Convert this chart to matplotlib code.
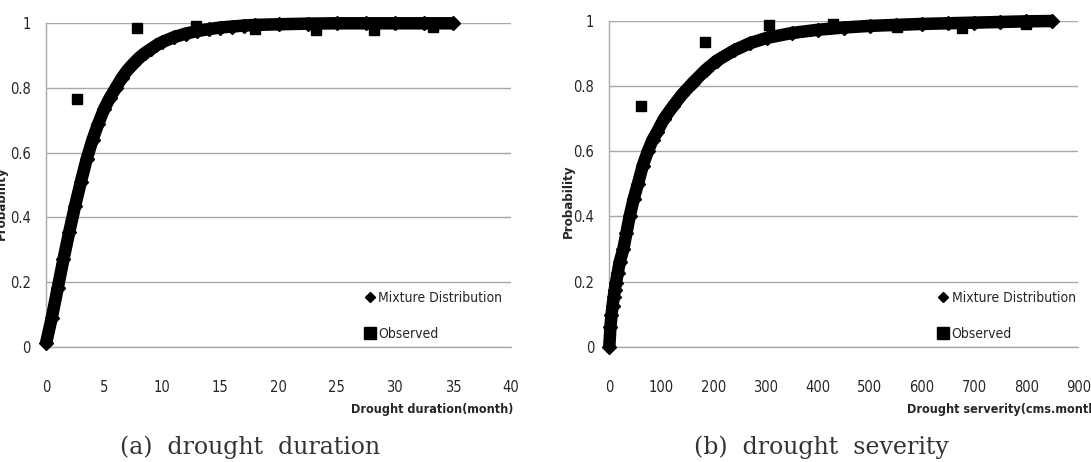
import matplotlib
matplotlib.use("Agg")
import matplotlib.pyplot as plt
from matplotlib.lines import Line2D

plt.rcParams['font.family'] = ['DejaVu Sans']
plt.rcParams['font.stretch'] = 'condensed'

# (a) drought duration - mixture distribution CDF
dur_x = [0, 0.5, 1.0, 1.5, 2.0, 2.5, 3.0, 3.5, 4.0, 4.5, 5.0, 5.5, 6.0, 6.5,
         7.0, 7.5, 8.0, 8.5, 9.0, 9.5, 10, 11, 12, 13, 14, 15, 16, 17, 18,
         20, 22.5, 25, 27.5, 30, 32.5, 35]
dur_y = [0.01, 0.09, 0.18, 0.27, 0.355, 0.435, 0.51, 0.58, 0.64, 0.69, 0.735,
         0.77, 0.80, 0.83, 0.855, 0.875, 0.893, 0.908, 0.92, 0.932, 0.942,
         0.957, 0.968, 0.976, 0.982, 0.987, 0.99, 0.993, 0.995, 0.997, 0.999,
         1.0, 1.0, 1.0, 1.0, 1.0]
dur_obs_x = [2.7, 7.8, 12.9, 18.0, 23.2, 28.2, 33.3]
dur_obs_y = [0.766, 0.985, 0.993, 0.982, 0.980, 0.980, 0.99]

# (b) drought severity
sev_x = [0, 2.1, 4.2, 6.3, 8.4, 10.5, 12.6, 16, 20, 27, 33, 39, 47, 55, 64,
         74, 83, 92, 105, 123, 140, 160, 185, 206, 240, 270, 302, 350, 400,
         450, 500, 550, 600, 650, 700, 750, 800, 850]
sev_y = [0.0, 0.059, 0.097, 0.126, 0.152, 0.174, 0.195, 0.225, 0.26, 0.30,
         0.35, 0.40, 0.455, 0.50, 0.555, 0.60, 0.635, 0.66, 0.70, 0.74, 0.775,
         0.81, 0.85, 0.878, 0.91, 0.932, 0.948, 0.963, 0.973, 0.98, 0.985,
         0.988, 0.991, 0.993, 0.995, 0.997, 0.999, 1.0]
sev_obs_x = [60, 184, 307, 430, 553, 676, 799]
sev_obs_y = [0.74, 0.937, 0.988, 0.99, 0.982, 0.978, 0.99]

y_ticks = [0, 0.2, 0.4, 0.6, 0.8, 1.0]
y_labels = ['0', '0.2', '0.4', '0.6', '0.8', '1']

W, H = 1091, 462
fig = plt.figure(figsize=(W / 100, H / 100), dpi=100)

ax1 = fig.add_axes([46 / W, 1 - 346.7 / H, 465 / W, 323.4 / H])
ax2 = fig.add_axes([609.3 / W, 1 - 346.7 / H, 469 / W, 325.7 / H])

grid_col = '#a8a8a8'
txt_col = '#262626'


def style(ax, xmax, xstep):
    ax.set_xlim(0, xmax)
    ax.set_ylim(0, 1)
    ax.set_yticks(y_ticks)
    ax.set_yticklabels(y_labels)
    ax.set_xticks(list(range(0, xmax + 1, xstep)))
    ax.tick_params(length=0, labelsize=10.5, colors=txt_col)
    ax.tick_params(axis='y', pad=11)
    ax.tick_params(axis='x', pad=24)
    for s in ['top', 'right']:
        ax.spines[s].set_visible(False)
    for s in ['left', 'bottom']:
        ax.spines[s].set_color(grid_col)
        ax.spines[s].set_linewidth(1.0)
    ax.yaxis.grid(True, color=grid_col, linewidth=1.0)
    ax.set_axisbelow(True)


def draw(ax, x, y, ox, oy):
    ax.plot(x, y, '-', color='black', lw=9, marker='D', ms=7,
            solid_capstyle='butt', clip_on=False, zorder=3)
    ax.plot(ox, oy, 's', color='black', ms=7.5, clip_on=False, zorder=4)


style(ax1, 40, 5)
style(ax2, 900, 100)
draw(ax1, dur_x, dur_y, dur_obs_x, dur_obs_y)
draw(ax2, sev_x, sev_y, sev_obs_x, sev_obs_y)

handles = [Line2D([], [], ls='none', marker='D', ms=5.5, color='black'),
           Line2D([], [], ls='none', marker='s', ms=8, color='black')]
names = ['Mixture Distribution', 'Observed']
for lx in (366, 939):
    fig.legend(handles, names, loc='upper left',
               bbox_to_anchor=(lx / W, 1 - 291 / H), frameon=False,
               handlelength=0.6, handletextpad=0.3, labelspacing=1.6,
               borderpad=0, borderaxespad=0, fontsize=10, labelcolor=txt_col)

fig.text(513 / W, 1 - 410 / H, 'Drought duration(month)', ha='right',
         va='center', fontsize=9, fontweight='bold', color=txt_col)
fig.text(907 / W, 1 - 410 / H, 'Drought serverity(cms.month)', ha='left',
         va='center', fontsize=9, fontweight='bold', color=txt_col)
fig.text(1 / W, 1 - 203 / H, 'Probability', rotation=90, ha='center',
         va='center', fontsize=9.5, fontweight='bold', color=txt_col)
fig.text(568 / W, 1 - 201 / H, 'Probability', rotation=90, ha='center',
         va='center', fontsize=9.5, fontweight='bold', color=txt_col)

fig.text(250 / W, 1 - 447 / H, '(a)  drought  duration', ha='center',
         va='center', fontsize=17, family='DejaVu Serif',
         fontstretch='normal', color='#333333')
fig.text(821 / W, 1 - 447 / H, '(b)  drought  severity', ha='center',
         va='center', fontsize=17, family='DejaVu Serif',
         fontstretch='normal', color='#333333')

fig.savefig('out.png', dpi=100)
